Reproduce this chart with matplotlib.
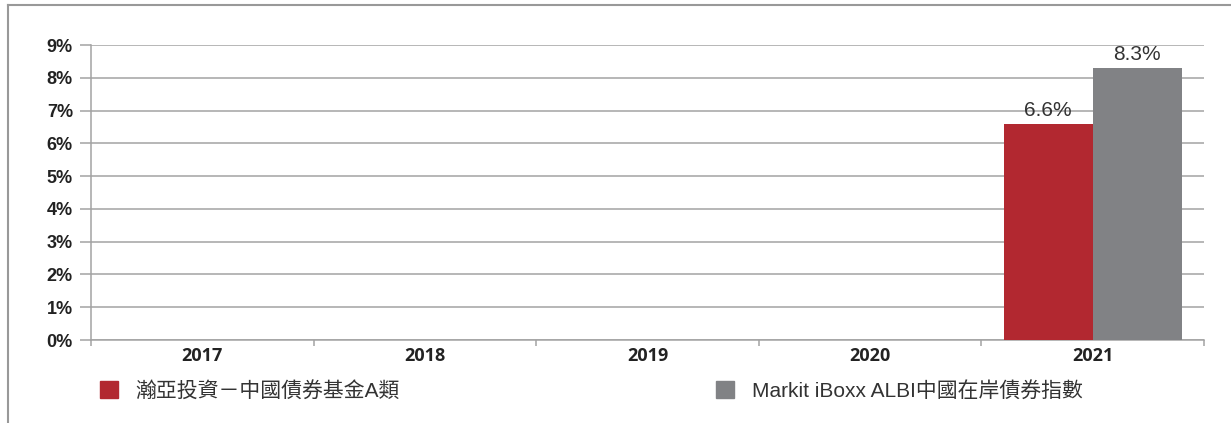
import numpy as np
import matplotlib
matplotlib.use("Agg")
import matplotlib.pyplot as plt
from matplotlib.patches import Patch
from matplotlib.lines import Line2D

# data
years = ["2017", "2018", "2019", "2020", "2021"]
fund = [np.nan, np.nan, np.nan, np.nan, 6.6]
index = [np.nan, np.nan, np.nan, np.nan, 8.3]
yticks = [0, 1, 2, 3, 4, 5, 6, 7, 8, 9]
fund_name = "瀚亞投資－中國債券基金A類"
index_name = "Markit iBoxx ALBI中國在岸債券指數"

red = "#B22830"
grey = "#818285"
line_c = "#A3A3A3"

fig = plt.figure(figsize=(12.31, 4.23), dpi=100)
ax = fig.add_axes([91 / 1231, 1 - 340 / 423, (1204 - 91) / 1231, (340 - 45) / 423])

x = np.arange(len(years))
w = 0.40
b1 = ax.bar(x - w / 2, fund, w, color=red, zorder=3)
b2 = ax.bar(x + w / 2, index, w, color=grey, zorder=3)

lab = lambda vals: ["" if np.isnan(v) else f"{v:.1f}%" for v in vals]
for bars, vals in ((b1, fund), (b2, index)):
    ax.bar_label(bars, labels=lab(vals), padding=3, fontsize=15,
                 family="Liberation Sans", color="#333333")

ax.set_xlim(-0.5, len(years) - 0.5)
ax.set_ylim(0, 9)
ax.set_yticks(yticks)
ax.set_yticklabels([f"{t}%" for t in yticks], family="Liberation Sans",
                   fontweight="bold", fontsize=13, color="#222222")
ax.yaxis.grid(True, color=line_c, linewidth=1.1, zorder=0)
ax.tick_params(axis="y", length=8, width=1.1, color=line_c, pad=5)

ax.set_xticks(x)
ax.set_xticklabels(years, family="Open Sans", fontweight="bold", fontsize=13,
                   color="#222222")
ax.set_xticks(np.arange(len(years) + 1) - 0.5, minor=True)
ax.tick_params(axis="x", which="major", length=0, pad=5)
ax.tick_params(axis="x", which="minor", length=4.5, width=1.1, color=line_c,
               direction="out")

for s in ("top", "right"):
    ax.spines[s].set_visible(False)
for s in ("left", "bottom"):
    ax.spines[s].set_color(line_c)
    ax.spines[s].set_linewidth(1.1)

# legend
lfont = {"family": ["Liberation Sans", "Noto Sans CJK TC"], "size": 15}
for name, col, xa in ((fund_name, red, 100 / 1231), (index_name, grey, 716 / 1231)):
    lg = fig.legend(handles=[Patch(color=col, label=name)], loc="center left",
                    bbox_to_anchor=(xa, 1 - 391 / 423), frameon=False, prop=lfont,
                    handlelength=0.87, handleheight=0.87, handletextpad=0.85,
                    borderpad=0, borderaxespad=0, labelcolor="#333333")

# outer frame
fig.add_artist(Line2D([8 / 1231, 8 / 1231], [0, 1 - 5 / 423], color="#999999",
                      linewidth=1.5, transform=fig.transFigure))
fig.add_artist(Line2D([8 / 1231, 1], [1 - 5 / 423, 1 - 5 / 423], color="#999999",
                      linewidth=1.5, transform=fig.transFigure))

fig.savefig("out.png", dpi=100)
